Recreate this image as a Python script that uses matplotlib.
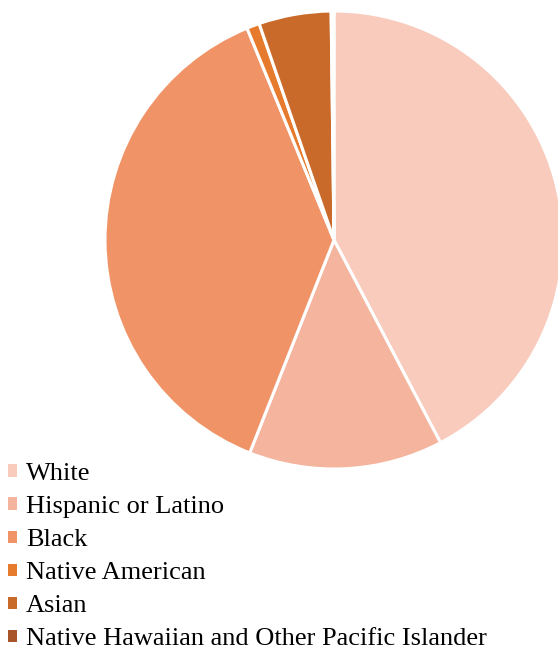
import matplotlib.pyplot as plt
from matplotlib.patches import Patch

groups = ['White', 'Hispanic or Latino', 'Black', 'Native American', 'Asian',
          'Native Hawaiian and Other Pacific Islander']
shares = [42.3, 13.7, 37.8, 0.9, 5.1, 0.2]
colors = ['#F8CBBD', '#F4B49D', '#F09468', '#E67B2D', '#C96A2A', '#A9552A']

fig = plt.figure(figsize=(5.58, 6.51), dpi=100)
ax = fig.add_axes([105 / 558, 182 / 651, 458 / 558, 458 / 651])
ax.pie(shares, colors=colors, startangle=90, counterclock=False, radius=1,
       wedgeprops=dict(edgecolor='white', linewidth=2.2))
ax.set_xlim(-1, 1)
ax.set_ylim(-1, 1)
ax.set_aspect('equal')
ax.axis('off')

handles = [Patch(facecolor=c, edgecolor='none') for c in colors]
fig.legend(handles, groups, loc='upper left', bbox_to_anchor=(8 / 558, 1 - 463 / 651),
           frameon=False, prop={'family': 'Liberation Serif', 'size': 19},
           handlelength=0.34, handleheight=0.34, handletextpad=0.35,
           labelspacing=0.42, borderaxespad=0, borderpad=0)

fig.savefig('out.png', dpi=100)
